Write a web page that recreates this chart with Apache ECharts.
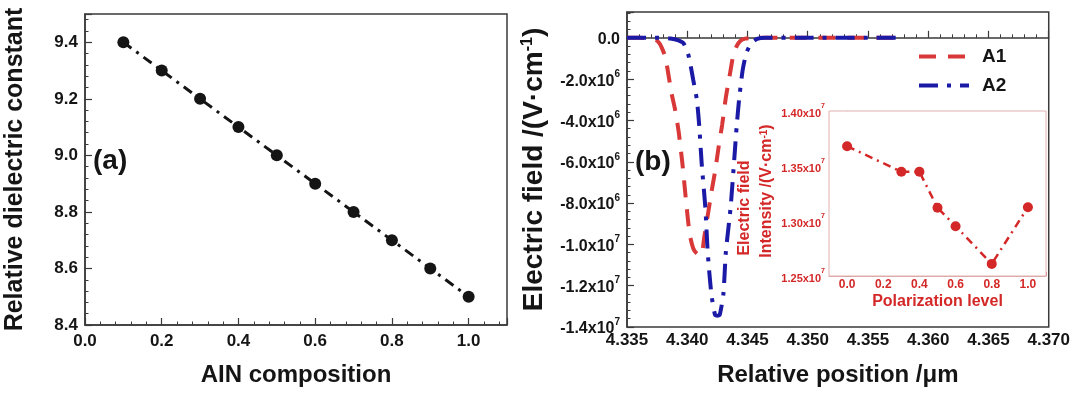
<!DOCTYPE html>
<html>
<head>
<meta charset="utf-8">
<script src="https://cdn.jsdelivr.net/npm/echarts@6/dist/echarts.min.js"></script>
<style>
html,body{margin:0;padding:0;background:#fff;}
#chart{width:1073px;height:395px;}
</style>
</head>
<body>
<div id="chart"></div>
<script>
// ---------- data ----------
const compositionAlN = [0.1, 0.2, 0.3, 0.4, 0.5, 0.6, 0.7, 0.8, 0.9, 1.0];
const dielectricConst = [9.4, 9.3, 9.2, 9.1, 9.0, 8.9, 8.8, 8.7, 8.6, 8.5];

const posA1 = [4.3350, 4.3360, 4.3370, 4.3374, 4.3377, 4.3379, 4.3381, 4.3383, 4.3385, 4.3387, 4.3390,
  4.3393, 4.3396, 4.3399, 4.3402, 4.3405, 4.3408, 4.3411, 4.3412, 4.3414, 4.3417, 4.3420, 4.3423,
  4.3426, 4.3429, 4.3432, 4.3435, 4.3438, 4.3441, 4.3444, 4.3448, 4.3455, 4.3500, 4.3550, 4.3577];
const fieldA1 = [0, 0, -0.02e6, -0.1e6, -0.27e6, -0.5e6, -0.8e6, -1.3e6, -2.0e6, -2.7e6, -3.5e6,
  -4.6e6, -6.1e6, -7.9e6, -9.5e6, -10.2e6, -10.45e6, -10.5e6, -10.5e6, -9.7e6, -8.6e6, -7.5e6, -6.5e6,
  -5.3e6, -4.2e6, -2.9e6, -1.9e6, -0.9e6, -0.4e6, -0.15e6, -0.04e6, 0, 0, 0, 0];

const posA2 = [4.3350, 4.3380, 4.3386, 4.3392, 4.3397, 4.3401, 4.3405, 4.3408, 4.3410, 4.3412, 4.3415,
  4.3417, 4.3420, 4.3423, 4.3425, 4.3427, 4.3430, 4.3432, 4.3436, 4.3439, 4.3441, 4.3443, 4.3446,
  4.3449, 4.3453, 4.3458, 4.3465, 4.3500, 4.3550, 4.3577];
const fieldA2 = [0, 0, -0.03e6, -0.11e6, -0.27e6, -0.84e6, -2.05e6, -3.0e6, -4.3e6, -6.1e6, -8.2e6,
  -10.4e6, -12.4e6, -13.4e6, -13.45e6, -13.4e6, -12.4e6, -10.4e6, -8.2e6, -5.9e6, -4.3e6, -3.0e6, -1.56e6,
  -0.75e6, -0.27e6, -0.05e6, 0, 0, 0, 0];

const polarizationLevel = [0.0, 0.3, 0.4, 0.5, 0.6, 0.8, 1.0];
const fieldIntensity = [1.368e7, 1.3448e7, 1.3448e7, 1.312e7, 1.2953e7, 1.261e7, 1.3125e7];

const seriesNames = ['A1', 'A2'];
const panelLabels = ['(a)', '(b)'];

// ---------- helpers ----------
const FF = '"Liberation Sans", Arial, Helvetica, sans-serif';
const zip = (a, b) => a.map((v, i) => [v, b[i]]);
function sciLabel(v) {
  if (Math.abs(v) < 1) return '{b|0.0}';
  const e = Math.floor(Math.log10(Math.abs(v)) + 1e-9);
  const m = v / Math.pow(10, e);
  return '{b|' + m.toFixed(1) + 'x10}{s|' + e + '}';
}
function sciLabelInset(v) {
  const e = Math.floor(Math.log10(Math.abs(v)) + 1e-9);
  const m = v / Math.pow(10, e);
  return '{b|' + m.toFixed(2) + 'x10}{s|' + e + '}';
}
const black = '#151515';
const frame = '#3a3a3a';
const red = '#d93838';
const insetRed = '#d42828';
const blue = '#1a1aa6';

const mainTick = (len) => ({ show: true, inside: true, length: len, lineStyle: { color: frame, width: 1.2 } });
const mainMinor = (n) => ({ show: true, splitNumber: n, length: 3.5, lineStyle: { color: frame, width: 1 } });

const chart = echarts.init(document.getElementById('chart'), null, { renderer: 'canvas' });

const option = {
  backgroundColor: '#ffffff',
  animation: false,
  grid: [
    { left: 85, top: 14, width: 422, height: 311, show: true, borderColor: frame, borderWidth: 1.5, backgroundColor: 'transparent' },
    { left: 627, top: 12, width: 425, height: 315, show: true, borderColor: frame, borderWidth: 1.5, backgroundColor: 'transparent' },
    { left: 829, top: 111, width: 217, height: 165, show: true, borderColor: '#e3b1b1', borderWidth: 1, backgroundColor: '#ffffff', z: 5 }
  ],
  xAxis: [
    {
      gridIndex: 0, type: 'value', min: 0, max: 1.1, interval: 0.2,
      axisLine: { show: true, lineStyle: { color: frame, width: 1.5 } },
      axisTick: mainTick(7), minorTick: mainMinor(5), splitLine: { show: false },
      axisLabel: { showMaxLabel: false, margin: 8, fontSize: 17, fontWeight: 'bold', color: black, fontFamily: FF,
        formatter: v => v.toFixed(1) },
      name: 'AIN composition', nameLocation: 'middle', nameGap: 38,
      nameTextStyle: { fontSize: 24, fontWeight: 'bold', color: black, fontFamily: FF }
    },
    {
      gridIndex: 1, type: 'value', min: 4.335, max: 4.370, interval: 0.005,
      axisLine: { show: true, lineStyle: { color: frame, width: 1.5 } },
      axisTick: mainTick(7), minorTick: mainMinor(5), splitLine: { show: false },
      axisLabel: { margin: 5, fontSize: 17, fontWeight: 'bold', color: black, fontFamily: FF,
        formatter: v => v.toFixed(3) },
      name: 'Relative position /\u03bcm', nameLocation: 'middle', nameGap: 36,
      nameTextStyle: { fontSize: 24, fontWeight: 'bold', color: black, fontFamily: FF }
    },
    {
      gridIndex: 2, type: 'value', min: -0.1, max: 1.1, splitNumber: 6,
      axisLine: { show: true, lineStyle: { color: '#d9a3a3', width: 1 } },
      axisTick: { show: true, inside: true, length: 4, lineStyle: { color: '#d08a8a' } },
      minorTick: { show: true, splitNumber: 2, length: 2, lineStyle: { color: '#d08a8a' } },
      splitLine: { show: false },
      axisLabel: { showMinLabel: false, showMaxLabel: false, margin: 3, fontSize: 12, fontWeight: 'bold', color: insetRed, fontFamily: FF,
        formatter: v => v.toFixed(1) },
      name: 'Polarization level', nameLocation: 'middle', nameGap: 18,
      nameTextStyle: { fontSize: 16, fontWeight: 'bold', color: insetRed, fontFamily: FF }
    }
  ],
  yAxis: [
    {
      gridIndex: 0, type: 'value', min: 8.4, max: 9.5, interval: 0.2,
      axisLine: { show: true, lineStyle: { color: frame, width: 1.5 } },
      axisTick: mainTick(7), minorTick: mainMinor(5), splitLine: { show: false },
      axisLabel: { showMaxLabel: false, margin: 7, fontSize: 17, fontWeight: 'bold', color: black, fontFamily: FF,
        formatter: v => v.toFixed(1) },
      name: 'Relative dielectric constant', nameLocation: 'middle', nameGap: 57,
      nameTextStyle: { fontSize: 25, fontWeight: 'bold', color: black, fontFamily: FF }
    },
    {
      gridIndex: 1, type: 'value', min: -1.4e7, max: 1.25e6, interval: 2e6,
      axisLine: { show: true, lineStyle: { color: frame, width: 1.5 } },
      axisTick: mainTick(7), minorTick: mainMinor(5), splitLine: { show: false },
      axisLabel: { showMaxLabel: false, margin: 7, color: black, fontFamily: FF,
        formatter: sciLabel,
        rich: {
          b: { fontSize: 16, fontWeight: 'bold', color: black, fontFamily: FF, lineHeight: 20, verticalAlign: 'bottom' },
          s: { fontSize: 10, fontWeight: 'bold', color: black, fontFamily: FF, lineHeight: 12, verticalAlign: 'top' }
        } },
      name: 'Electric field /(V\u00b7cm{s|-1})', nameLocation: 'middle', nameGap: 79,
      nameTextStyle: { fontSize: 28, fontWeight: 'bold', color: black, fontFamily: FF,
        rich: { s: { fontSize: 16, fontWeight: 'bold', color: black, fontFamily: FF, lineHeight: 16, verticalAlign: 'top' } } }
    },
    {
      gridIndex: 2, type: 'value', min: 1.25e7, max: 1.40e7, interval: 5e5,
      axisLine: { show: true, lineStyle: { color: '#d9a3a3', width: 1 } },
      axisTick: { show: true, inside: true, length: 4, lineStyle: { color: '#d08a8a' } },
      minorTick: { show: true, splitNumber: 2, length: 2, lineStyle: { color: '#d08a8a' } },
      splitLine: { show: false },
      axisLabel: { margin: 4, color: insetRed, fontFamily: FF,
        formatter: sciLabelInset,
        rich: {
          b: { fontSize: 11, fontWeight: 'bold', color: insetRed, fontFamily: FF, lineHeight: 16, verticalAlign: 'bottom' },
          s: { fontSize: 7, fontWeight: 'bold', color: insetRed, fontFamily: FF, lineHeight: 7, verticalAlign: 'top' }
        } }
    }
  ],
  legend: {
    orient: 'vertical', left: 912, top: 42, itemWidth: 50, itemHeight: 14, itemGap: 10,
    data: seriesNames,
    lineStyle: { width: 4 },
    itemStyle: { opacity: 0, color: 'rgba(0,0,0,0)', borderWidth: 0 },
    textStyle: { fontSize: 19, fontWeight: 'bold', color: black, fontFamily: FF, padding: [0, 0, 0, 8] }
  },
  graphic: [
    { type: 'text', left: 93, top: 147, style: { text: panelLabels[0], font: 'bold 28px ' + FF, fill: black } },
    { type: 'text', left: 635, top: 148, style: { text: panelLabels[1], font: 'bold 28px ' + FF, fill: black } },
    { type: 'text', x: 745, y: 208, rotation: Math.PI / 2, z: 10,
      style: { text: 'Electric field', font: 'bold 16px ' + FF, fill: insetRed, align: 'center', verticalAlign: 'middle' } },
    { type: 'text', x: 767, y: 191, rotation: Math.PI / 2, z: 10,
      style: { text: 'Intensity /(V\u00b7cm{s|-1})', font: 'bold 16px ' + FF, fill: insetRed, align: 'center', verticalAlign: 'middle',
        rich: { s: { font: 'bold 10px ' + FF, fill: insetRed, lineHeight: 9, verticalAlign: 'top' } } } }
  ],
  series: [
    {
      type: 'line', xAxisIndex: 0, yAxisIndex: 0, data: zip(compositionAlN, dielectricConst),
      symbol: 'circle', symbolSize: 12, itemStyle: { color: black },
      lineStyle: { color: black, width: 3, type: [10, 6, 3, 6] }, z: 3
    },
    {
      name: seriesNames[0], type: 'line', xAxisIndex: 1, yAxisIndex: 1, data: zip(posA1, fieldA1),
      symbol: 'none', smooth: 0.2, itemStyle: { color: red },
      lineStyle: { color: red, width: 4, type: [17, 12] }, z: 3
    },
    {
      name: seriesNames[1], type: 'line', xAxisIndex: 1, yAxisIndex: 1, data: zip(posA2, fieldA2),
      symbol: 'none', smooth: 0.2, itemStyle: { color: blue },
      lineStyle: { color: blue, width: 4, type: [19, 9, 4, 9] }, z: 4
    },
    {
      type: 'line', xAxisIndex: 2, yAxisIndex: 2, data: zip(polarizationLevel, fieldIntensity),
      symbol: 'circle', symbolSize: 10, itemStyle: { color: insetRed },
      lineStyle: { color: insetRed, width: 2.5, type: [8, 5, 2, 5] }, z: 6
    }
  ]
};
chart.setOption(option);
</script>
</body>
</html>
